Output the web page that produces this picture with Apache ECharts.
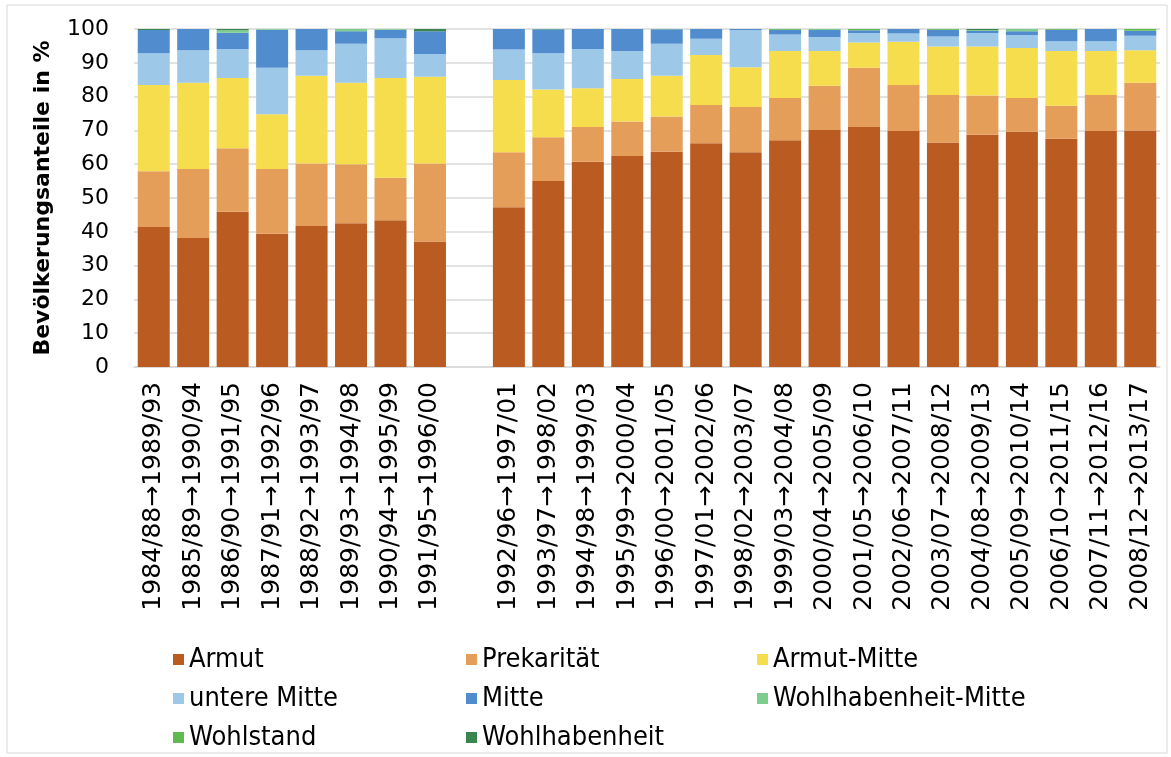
<!DOCTYPE html>
<html>
<head>
<meta charset="utf-8">
<script src="https://cdn.jsdelivr.net/npm/echarts@6/dist/echarts.min.js"></script>
<style>
  html, body { margin: 0; padding: 0; background: #fff; }
  #plot { width: 1171px; height: 757px; }
</style>
</head>
<body>
<div id="plot"></div>
<script>
var categories = ['1984/88→1989/93', '1985/89→1990/94', '1986/90→1991/95', '1987/91→1992/96',
  '1988/92→1993/97', '1989/93→1994/98', '1990/94→1995/99', '1991/95→1996/00', '',
  '1992/96→1997/01', '1993/97→1998/02', '1994/98→1999/03', '1995/99→2000/04',
  '1996/00→2001/05', '1997/01→2002/06', '1998/02→2003/07', '1999/03→2004/08',
  '2000/04→2005/09', '2001/05→2006/10', '2002/06→2007/11', '2003/07→2008/12',
  '2004/08→2009/13', '2005/09→2010/14', '2006/10→2011/15', '2007/11→2012/16',
  '2008/12→2013/17'];

var armut = [41.4, 38.2, 45.9, 39.4, 41.7, 42.5, 43.4, 37.1, null,
  47.3, 55.0, 60.7, 62.4, 63.7, 66.2, 63.5, 67.1, 70.1, 71.0, 69.8, 66.4, 68.7, 69.6, 67.5, 69.8, 70.0];
var prekaritaet = [16.5, 20.4, 18.8, 19.2, 18.5, 17.5, 12.6, 23.1, null,
  16.2, 13.0, 10.3, 10.2, 10.4, 11.3, 13.4, 12.5, 13.1, 17.5, 13.6, 14.1, 11.6, 10.0, 9.8, 10.7, 14.1];
var armutMitte = [25.5, 25.5, 20.8, 16.2, 26.0, 24.1, 29.5, 25.7, null,
  21.4, 14.1, 11.5, 12.6, 12.1, 14.8, 11.8, 13.9, 10.3, 7.5, 12.8, 14.3, 14.5, 14.8, 16.2, 13.0, 9.6];
var untereMitte = [9.4, 9.6, 8.6, 13.7, 7.5, 11.5, 11.8, 6.7, null,
  9.0, 10.7, 11.6, 8.3, 9.4, 4.8, 10.9, 4.9, 4.1, 2.8, 2.5, 3.0, 4.0, 3.8, 2.9, 2.9, 4.3];
var mitte = [6.9, 6.3, 4.8, 11.3, 6.3, 3.7, 2.5, 6.7, null,
  6.1, 7.1, 5.9, 6.5, 4.3, 2.9, 0.4, 1.4, 2.1, 0.8, 1.3, 2.0, 0.6, 1.1, 3.4, 3.6, 1.5];
var wohlhabenheitMitte = [0, 0, 0.7, 0.2, 0, 0.7, 0.2, 0, null,
  0, 0, 0, 0, 0.1, 0, 0, 0, 0.3, 0, 0, 0, 0.2, 0.7, 0, 0, 0];
var wohlstand = [0, 0, 0, 0, 0, 0, 0, 0, null,
  0, 0.1, 0, 0, 0, 0, 0, 0.2, 0, 0.4, 0, 0.2, 0, 0, 0.2, 0, 0.5];
var wohlhabenheit = [0.3, 0, 0.4, 0, 0, 0, 0, 0.7, null,
  0, 0, 0, 0, 0, 0, 0, 0, 0, 0, 0, 0, 0.4, 0, 0, 0, 0];

var yTicks = [0, 10, 20, 30, 40, 50, 60, 70, 80, 90, 100];

var seriesDefs = [
  ['Armut', armut, '#BA5B22'],
  ['Prekarität', prekaritaet, '#E49E5A'],
  ['Armut-Mitte', armutMitte, '#F6DD4E'],
  ['untere Mitte', untereMitte, '#9DC8E8'],
  ['Mitte', mitte, '#518DCE'],
  ['Wohlhabenheit-Mitte', wohlhabenheitMitte, '#7DCE8E'],
  ['Wohlstand', wohlstand, '#5DBB4F'],
  ['Wohlhabenheit', wohlhabenheit, '#3A8550']
];

var series = seriesDefs.map(function (d) {
  return {
    name: d[0],
    type: 'bar',
    stack: 'total',
    data: d[1],
    barWidth: 32,
    itemStyle: { color: d[2] },
    emphasis: { disabled: true }
  };
});

// three legend columns, like the original layout
var legendText = { fontFamily: 'DejaVu Sans Condensed', fontSize: 27, color: '#000' };
function makeLegend(names, left) {
  return {
    data: names,
    orient: 'vertical',
    left: left,
    top: 641,
    height: 140,
    itemWidth: 11,
    itemHeight: 11,
    itemGap: 12,
    icon: 'rect',
    textStyle: legendText,
    selectedMode: false
  };
}

var myChart = echarts.init(document.getElementById('plot'));
var option = {
  animation: false,
  backgroundColor: '#fff',
  graphic: [{
    type: 'rect',
    shape: { x: 7, y: 5, width: 1160, height: 748 },
    style: { fill: 'none', stroke: '#d9d9d9', lineWidth: 1 },
    silent: true
  }],
  legend: [
    makeLegend(['Armut', 'untere Mitte', 'Wohlstand'], 168),
    makeLegend(['Prekarität', 'Mitte', 'Wohlhabenheit'], 461),
    makeLegend(['Armut-Mitte', 'Wohlhabenheit-Mitte'], 752)
  ],
  grid: { left: 134, right: 11, top: 29, bottom: 390, containLabel: false },
  xAxis: {
    type: 'category',
    data: categories,
    axisTick: { show: false },
    axisLine: { lineStyle: { color: '#d9d9d9', width: 1.5 } },
    axisLabel: {
      rotate: 90,
      interval: 0,
      margin: 15,
      fontFamily: 'DejaVu Sans',
      fontSize: 25,
      color: '#000'
    }
  },
  yAxis: {
    type: 'value',
    min: yTicks[0],
    max: yTicks[yTicks.length - 1],
    interval: 10,
    name: 'Bevölkerungsanteile in %',
    nameLocation: 'middle',
    nameGap: 80,
    nameTextStyle: { fontFamily: 'DejaVu Sans', fontWeight: 'bold', fontSize: 22, color: '#000' },
    axisLine: { show: false },
    axisTick: { show: false },
    axisLabel: { margin: 25, fontFamily: 'DejaVu Sans', fontSize: 22, color: '#000' },
    splitLine: { lineStyle: { color: '#d9d9d9', width: 1.5 } }
  },
  series: series
};

option && myChart.setOption(option);
</script>
</body>
</html>
